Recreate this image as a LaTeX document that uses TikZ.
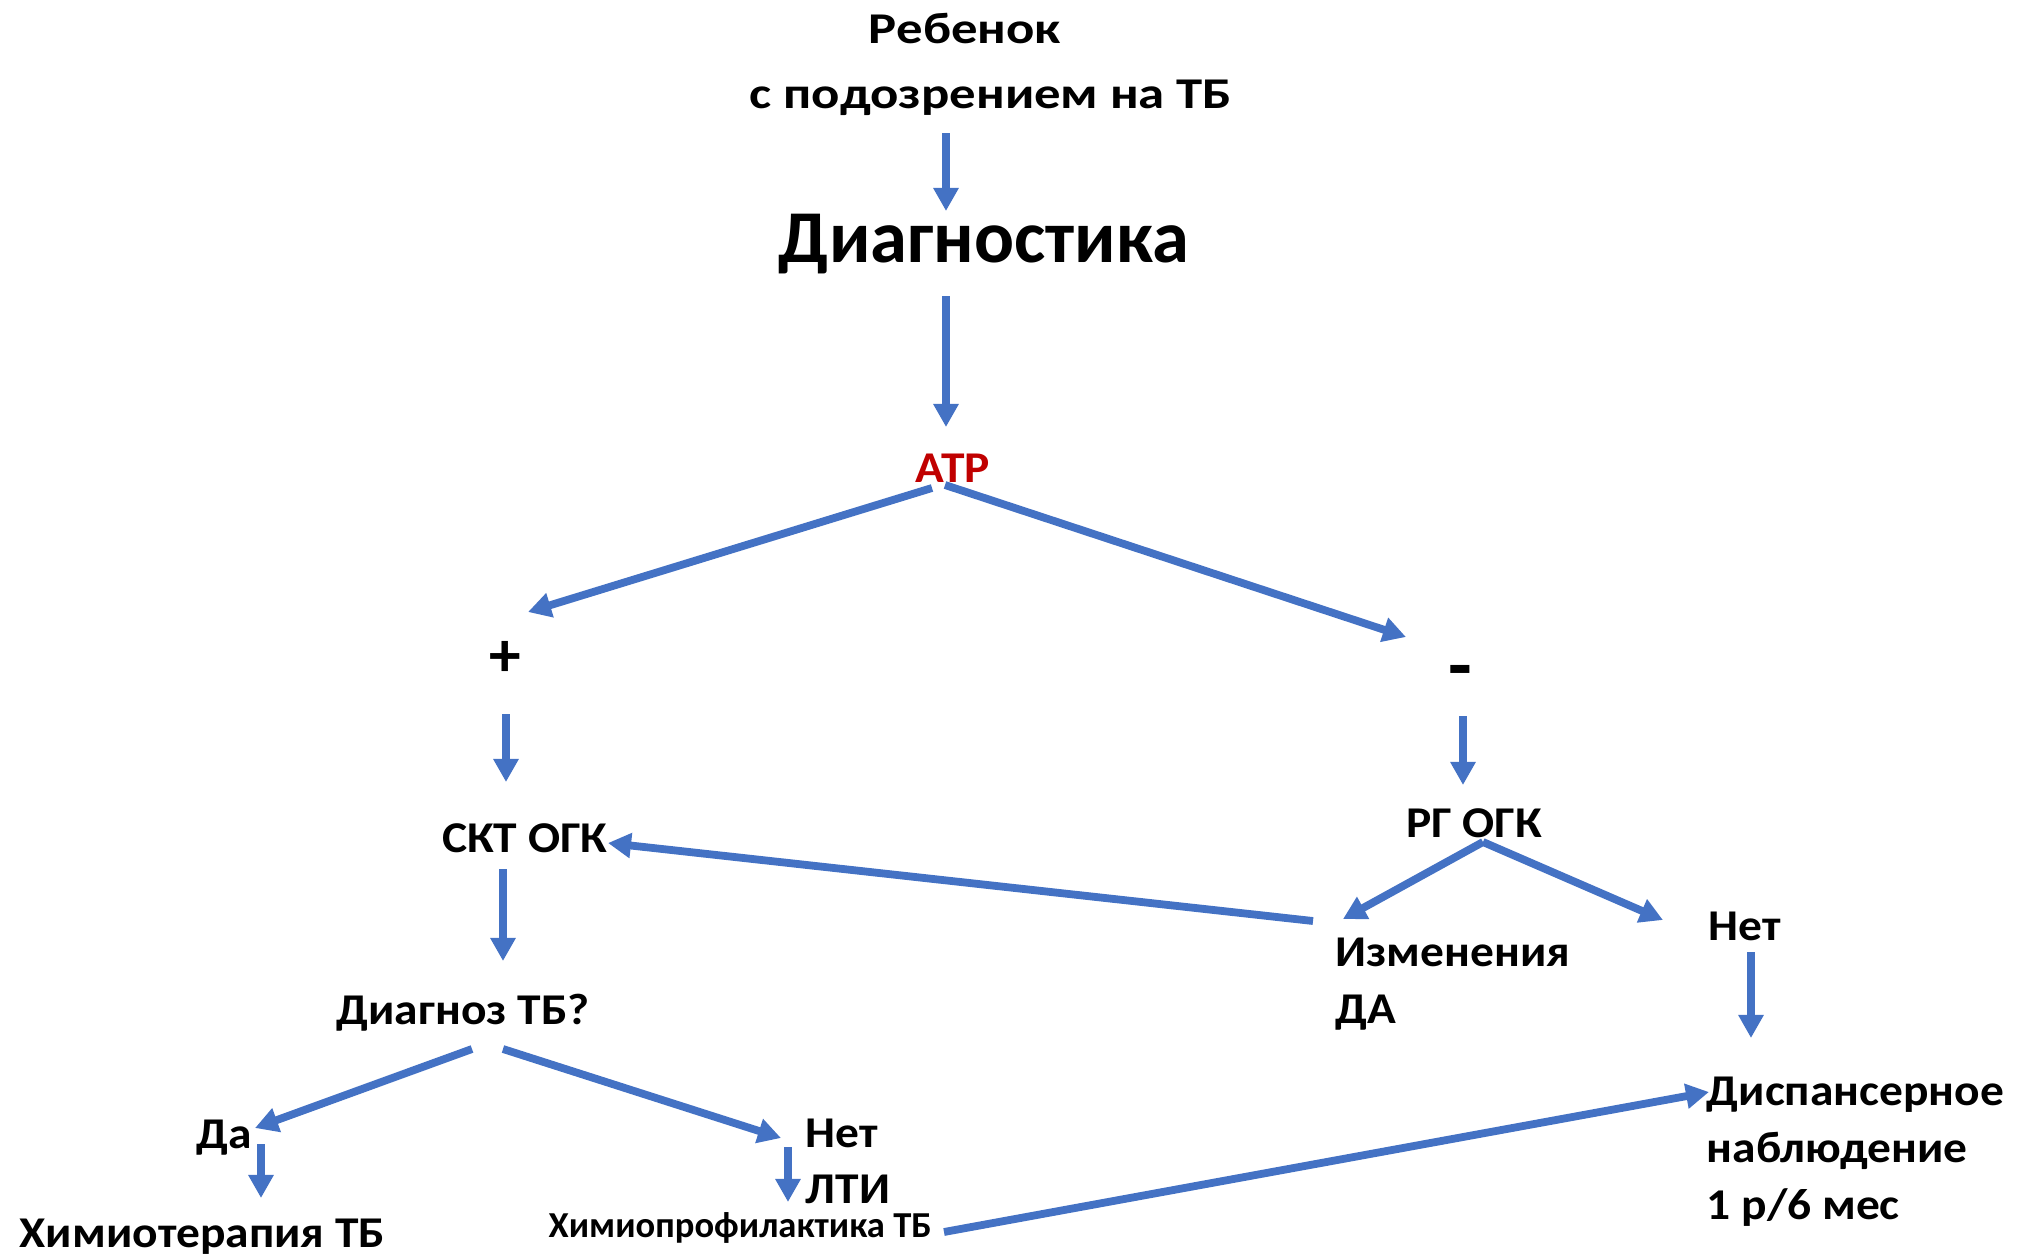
\documentclass[tikz,border=0pt]{standalone}
\usepackage{fontspec}
\setmainfont{Carlito}[FakeStretch=1.08]
\newfontfamily\plainfont{Carlito}
\newfontfamily\widefont{Carlito}[FakeStretch=1.2]
\usepackage{tikz}
\usetikzlibrary{arrows.meta,calc}
\definecolor{arrblue}{HTML}{4472C4}
\definecolor{atrred}{HTML}{C00000}

\begin{document}
\begin{tikzpicture}[x=0.01cm, y=-0.01cm,
		font=\bfseries\fontsize{12.5}{16.2}\selectfont,
		lbl/.style={inner sep=0pt, anchor=base},
		lft/.style={inner sep=0pt, anchor=base west, align=left},
		arr/.style={arrblue, line width=0.078cm, -{Triangle[length=0.23cm, width=0.24cm]}},
		varr/.style={arrblue, line width=0.075cm, -{Triangle[length=0.23cm, width=0.24cm]}}]
	\useasboundingbox (0,0) rectangle (2029,1254);
	% ---- top: patient and diagnostics ----
	\node[lbl, font=\widefont\bfseries\fontsize{12.5}{16.2}\selectfont] (ttl1) at (965,43) {Ребенок};
	\node[lbl, font=\widefont\bfseries\fontsize{12.5}{16.2}\selectfont] (ttl2) at (991,108) {с подозрением на ТБ};
	\node[lbl, font=\plainfont\bfseries\fontsize{21.2}{25}\selectfont] (diag) at (984,262) {Диагностика};
	\node[lbl, text=atrred] (atr) at (953,482) {АТР};
	\node[inner sep=0pt, font=\plainfont\bfseries\fontsize{18}{20}\selectfont] (plus) at (505,659) {+};
	\node[lbl, font=\plainfont\bfseries\fontsize{22}{24}\selectfont] (minus) at (1460,691) {-};
	% ---- middle ----
	\node[lbl] (skt) at (525,852) {СКТ ОГК};
	\node[lbl] (rg) at (1474,837) {РГ ОГК};
	\node[lft] (izm) at (1335,1023) {Изменения\\ДА};
	\node[lft] (net2) at (1708,940) {Нет};
	\node[lft] (disp) at (1706,1219) {Диспансерное\\наблюдение\\1 р/6 мес};
	\node[lbl] (diagz) at (463,1024) {Диагноз ТБ?};
	% ---- bottom ----
	\node[lft] (da) at (196,1148) {Да};
	\node[lft] (himt) at (19,1247) {Химиотерапия ТБ};
	\node[lft] (net1) at (805,1147) {Нет};
	\node[lft] (lti) at (805,1203) {ЛТИ};
	\node[lft, font=\plainfont\bfseries\fontsize{10.4}{12}\selectfont] (himp) at (548,1237) {Химиопрофилактика ТБ};
	% ---- connectors ----
	\draw[varr] ($(ttl2.base)+(-45,25)$) -- ($(diag.base)+(-38,-51)$);
	\draw[varr] ($(diag.base)+(-38,34)$) -- ($(atr.base)+(-7,-55)$);
	\draw[arr] ($(atr.base)+(-21,6)$) -- ($(plus.center)+(23,-47)$);
	\draw[arr] ($(atr.base)+(-8,3)$) -- ($(minus.base)+(-54,-54)$);
	\draw[varr] ($(plus.center)+(1,55)$) -- ($(skt.base)+(-19,-70)$);
	\draw[varr] ($(minus.base)+(3,25)$) -- ($(rg.base)+(-11,-52)$);
	\draw[arr] ($(rg.base)+(9,5)$) -- ($(izm.base west)+(8,-104)$);
	\draw[arr] ($(rg.base)+(9,5)$) -- ($(net2.base west)+(-45,-20)$);
	\draw[arr] ($(izm.base west)+(-22,-102)$) -- ($(skt.base)+(83,-9)$);
	\draw[varr] ($(skt.base)+(-22,17)$) -- ($(diagz.base)+(40,-63)$);
	\draw[varr] ($(net2.base west)+(43,12)$) -- ($(disp.base west)+(45,-181)$);
	\draw[arr] ($(diagz.base)+(9,25)$) -- ($(da.base west)+(59,-20)$);
	\draw[arr] ($(diagz.base)+(40,25)$) -- ($(net1.base west)+(-24,-9)$);
	\draw[varr] ($(da.base west)+(65,-4)$) -- ($(himt.base west)+(242,-49)$);
	\draw[varr] ($(net1.base west)+(-17,0)$) -- ($(lti.base west)+(-17,-1)$);
	\draw[arr] ($(himp.base west)+(396,-5)$) -- ($(disp.base west)+(3,-127)$);
\end{tikzpicture}
\end{document}
